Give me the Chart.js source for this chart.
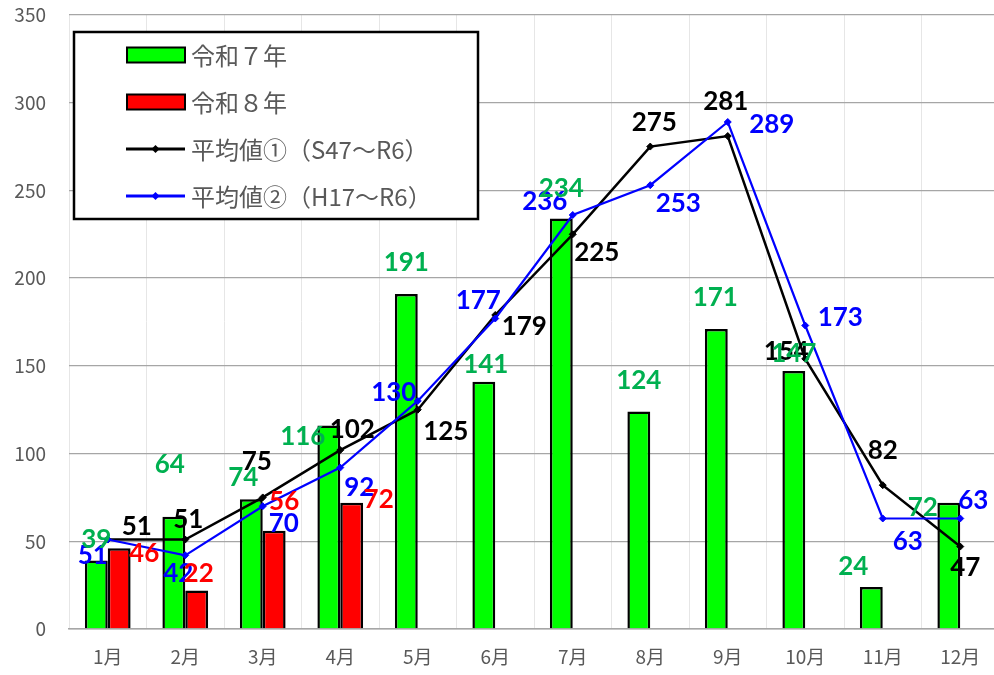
<!DOCTYPE html>
<html>
<head>
<meta charset="utf-8">
<script src="https://cdn.jsdelivr.net/npm/chart.js@4.4.1/dist/chart.umd.min.js"></script>
<style>
  html, body { margin: 0; padding: 0; background: #fff; overflow: hidden; }
  #chartCanvas { display: block; }
</style>
</head>
<body>
<canvas id="chartCanvas" width="1004" height="675"></canvas>
<script>
// 月ごとのデータ
const months = ['1月', '2月', '3月', '4月', '5月', '6月', '7月', '8月', '9月', '10月', '11月', '12月'];
const reiwa7 = [39, 64, 74, 116, 191, 141, 234, 124, 171, 147, 24, 72];
const reiwa8 = [46, 22, 56, 72, null, null, null, null, null, null, null, null];
const avg1 = [51, 51, 75, 102, 125, 179, 225, 275, 281, 154, 82, 47];
const avg2 = [51, 42, 70, 92, 130, 177, 236, 253, 289, 173, 63, 63];
const seriesNames = ['令和７年', '令和８年', '平均値①（S47～R6）', '平均値②（H17～R6）'];

// ラベルの位置調整 (px) — 元の図で手動で動かされている
const offR7 = [[0,-21],[-4,-52],[-8,-22],[-26,11],[0,-31],[2,-17],[0,-30],[0,-31],[-1,-31],[0,-18],[-18,-20],[-26,5]];
const offR8 = [[25,5],[2,-17],[10,-29],[27,-3]];
const offA1 = [[29,-13],[3,-20],[-6,-36],[12,-20],[28,22],[29,12],[24,18],[4,-24],[-2,-34],[-19,-7],[0,-35],[5,21]];
const offA2 = [[-15,16],[-7,18],[21,17],[19,20],[-24,-8],[-17,-18],[-28,-13],[28,18],[44,3],[35,-8],[25,23],[13,-18]];

const labelFont = 'bold 26px Lato, "Open Sans", sans-serif';
const cjkFont = '"Noto Sans CJK JP", "Noto Sans", sans-serif';

const labelPlugin = {
    id: 'labelPlugin',
    afterDatasetsDraw(chart) {
        const ctx = chart.ctx;
        ctx.save();

        // 凡例 (グラフ内の枠)
        ctx.fillStyle = '#fff';
        ctx.fillRect(74, 32, 404, 187);
        ctx.strokeStyle = '#000';
        ctx.lineWidth = 2.5;
        ctx.strokeRect(74, 32, 404, 187);

        const rows = [55, 102, 149, 196];
        ctx.font = '24px ' + cjkFont;
        ctx.textAlign = 'left';
        ctx.textBaseline = 'middle';
        rows.forEach((y, i) => {
            const ds = chart.data.datasets[i];
            if (ds.type === 'bar') {
                ctx.fillStyle = ds.backgroundColor;
                ctx.fillRect(127, y - 7.5, 58, 15);
                ctx.lineWidth = 2;
                ctx.strokeStyle = '#000';
                ctx.strokeRect(127, y - 7.5, 58, 15);
            } else {
                ctx.strokeStyle = ds.borderColor;
                ctx.lineWidth = 3;
                ctx.beginPath();
                ctx.moveTo(126, y);
                ctx.lineTo(185, y);
                ctx.stroke();
                ctx.fillStyle = ds.borderColor;
                ctx.beginPath();
                ctx.moveTo(155.5, y - 4);
                ctx.lineTo(159.5, y);
                ctx.lineTo(155.5, y + 4);
                ctx.lineTo(151.5, y);
                ctx.closePath();
                ctx.fill();
            }
            ctx.fillStyle = '#595959';
            ctx.fillText(seriesNames[i], 191, y + 1);
        });

        // データラベル
        ctx.font = labelFont;
        ctx.textAlign = 'center';
        ctx.textBaseline = 'middle';
        const drawSet = (index, offsets, color) => {
            const meta = chart.getDatasetMeta(index);
            const values = chart.data.datasets[index].data;
            meta.data.forEach((el, j) => {
                if (values[j] === null || !offsets[j]) return;
                ctx.fillStyle = color;
                ctx.fillText(String(values[j]), el.x + offsets[j][0], el.y + offsets[j][1]);
            });
        };
        drawSet(2, offA1, '#000000');
        drawSet(3, offA2, '#0000ff');
        drawSet(0, offR7, '#00b050');
        drawSet(1, offR8, '#ff0000');

        ctx.restore();
    }
};

const ctx = document.getElementById('chartCanvas').getContext('2d');
const chart = new Chart(ctx, {
    data: {
        labels: months,
        datasets: [
            {
                type: 'bar',
                label: seriesNames[0],
                data: reiwa7,
                backgroundColor: '#00ff00',
                borderColor: '#000',
                borderWidth: 2.5,
                order: 3
            },
            {
                type: 'bar',
                label: seriesNames[1],
                data: reiwa8,
                backgroundColor: '#ff0000',
                borderColor: '#000',
                borderWidth: 2.5,
                order: 3
            },
            {
                type: 'line',
                label: seriesNames[2],
                data: avg1,
                borderColor: '#000',
                backgroundColor: '#000',
                borderWidth: 2.5,
                pointStyle: 'rectRot',
                pointRadius: 3.5,
                pointBorderWidth: 1,
                tension: 0,
                fill: false,
                order: 2
            },
            {
                type: 'line',
                label: seriesNames[3],
                data: avg2,
                borderColor: '#0000ff',
                backgroundColor: '#0000ff',
                borderWidth: 2.2,
                pointStyle: 'rectRot',
                pointRadius: 3.5,
                pointBorderWidth: 1,
                tension: 0,
                fill: false,
                order: 1
            }
        ]
    },
    options: {
        responsive: false,
        animation: false,
        datasets: {
            bar: { barPercentage: 1, categoryPercentage: 0.59 }
        },
        layout: { padding: { top: 15, right: 0, left: 0, bottom: 0 } },
        plugins: {
            legend: { display: false },
            tooltip: { enabled: false }
        },
        scales: {
            x: {
                afterFit: scale => { scale.height = 46; },
                grid: { color: '#e6e6e6', lineWidth: 1, drawTicks: false, offset: true },
                border: { color: '#a6a6a6', width: 1.5 },
                ticks: {
                    color: '#595959',
                    font: { family: cjkFont, size: 19 },
                    padding: 16,
                    maxRotation: 0
                }
            },
            y: {
                min: 0,
                max: 350,
                afterFit: scale => {
                    scale.width = 69;
                    scale.paddingTop = 0;
                    scale.paddingBottom = 0;
                },
                grid: { color: '#a6a6a6', lineWidth: 1.3, drawTicks: false },
                border: { display: false },
                ticks: {
                    stepSize: 50,
                    color: '#595959',
                    font: { family: cjkFont, size: 19 },
                    padding: 23
                }
            }
        }
    },
    plugins: [labelPlugin]
});
</script>
</body>
</html>
